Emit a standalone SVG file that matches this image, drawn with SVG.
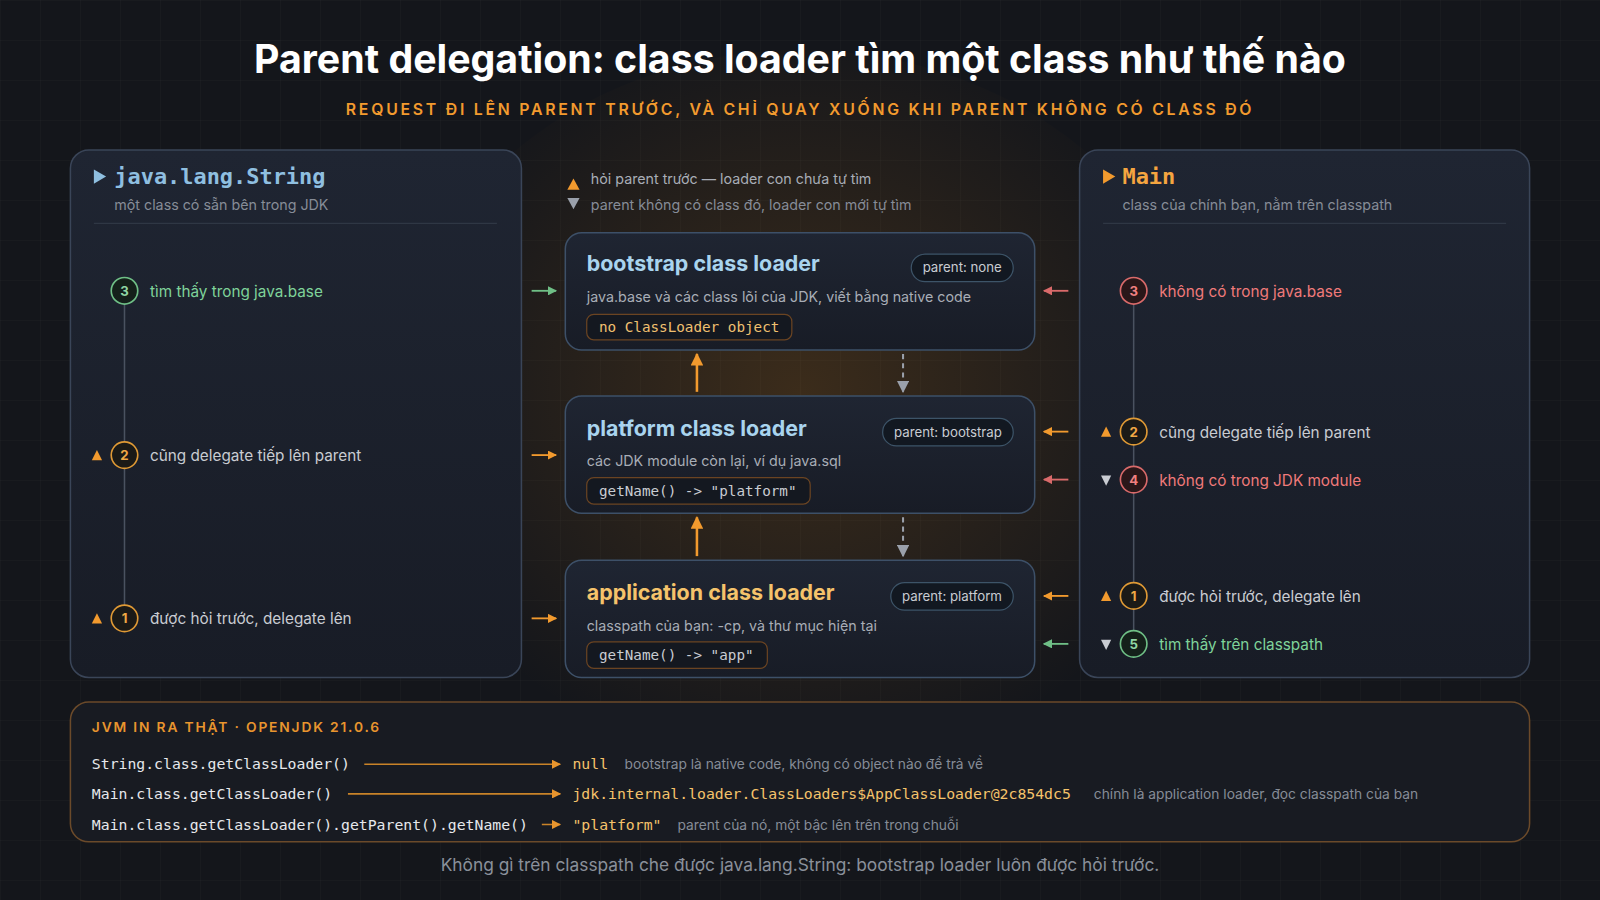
<svg xmlns="http://www.w3.org/2000/svg" width="1600" height="900" viewBox="0 0 1600 900">
<defs>
<pattern id="grid" width="40" height="40" patternUnits="userSpaceOnUse"><path d="M40 0H0V40" fill="none" stroke="#ffffff" stroke-opacity="0.035"/></pattern>
<radialGradient id="glow" cx="0.5" cy="0.45" r="0.5"><stop offset="0" stop-color="#c77a1a" stop-opacity="0.22"/><stop offset="1" stop-color="#c77a1a" stop-opacity="0"/></radialGradient>
<linearGradient id="card" x1="0" y1="0" x2="0" y2="1"><stop offset="0" stop-color="#1f2532"/><stop offset="1" stop-color="#181c26"/></linearGradient>
<marker id="ao" viewBox="0 0 10 10" refX="9" refY="5" markerWidth="5" markerHeight="5" orient="auto"><path d="M0 0L10 5L0 10z" fill="#f29a2e"/></marker>
<marker id="ag" viewBox="0 0 10 10" refX="9" refY="5" markerWidth="5" markerHeight="5" orient="auto"><path d="M0 0L10 5L0 10z" fill="#6fbf86"/></marker>
<marker id="ar" viewBox="0 0 10 10" refX="9" refY="5" markerWidth="5" markerHeight="5" orient="auto"><path d="M0 0L10 5L0 10z" fill="#d96a6a"/></marker>
<marker id="ay" viewBox="0 0 10 10" refX="9" refY="5" markerWidth="6" markerHeight="6" orient="auto"><path d="M0 0L10 5L0 10z" fill="#9aa0ab"/></marker>
<marker id="ab" viewBox="0 0 10 10" refX="9" refY="5" markerWidth="6" markerHeight="6" orient="auto"><path d="M0 0L10 5L0 10z" fill="#e8952e"/></marker>
</defs>
<style>
.s{font-family:"Inter","Liberation Sans",sans-serif}
.m{font-family:"DejaVu Sans Mono","Liberation Mono",monospace}
.panel{fill:url(#card);stroke:#3a4558;stroke-width:1.5}
.box{fill:url(#card);stroke:#3d5068;stroke-width:1.5}
.pill{fill:#121821;stroke:#3d5468;stroke-width:1.2}
.code{fill:#141820;stroke:#6b4422;stroke-width:1.2}
.gray{fill:#a8adb6}
.dim{fill:#868c97}
.lt{fill:#c9ccd2}
.ttl{fill:#a9d4ee;font-weight:700;font-size:21px}
.line{stroke:#4a5260;stroke-width:1.5}
</style>
<rect width="1600" height="900" fill="#14161b"/>
<rect width="1600" height="900" fill="url(#grid)"/>
<ellipse cx="800" cy="430" rx="420" ry="380" fill="url(#glow)"/>
<g transform="scale(1.0204)">
<text class="s" x="784" y="72" text-anchor="middle" font-size="38.5" font-weight="700" fill="#ffffff">Parent delegation: class loader tìm một class như thế nào</text>
<text class="s" x="784" y="113" text-anchor="middle" font-size="15.5" font-weight="600" letter-spacing="2.7" fill="#f29a2e">REQUEST ĐI LÊN PARENT TRƯỚC, VÀ CHỈ QUAY XUỐNG KHI PARENT KHÔNG CÓ CLASS ĐÓ</text>

<g id="left-panel">
<rect class="panel" x="69" y="147" width="442" height="517" rx="18"/>
<path d="M92 166L104 173L92 180z" fill="#8fbfe0"/>
<text class="m" x="112" y="180" font-size="21.5" font-weight="700" fill="#8fbfe0">java.lang.String</text>
<text class="s dim" x="112" y="206" font-size="14">một class có sẵn bên trong JDK</text>
<line x1="92" y1="219" x2="487" y2="219" stroke="#2f3744" stroke-width="1.2"/>
<line class="line" x1="122" y1="298" x2="122" y2="594"/>
<circle cx="122" cy="285" r="13" fill="#14201a" stroke="#6fbf86" stroke-width="1.6"/>
<text class="s" x="122" y="290" text-anchor="middle" font-size="13" font-weight="700" fill="#8fd6a3">3</text>
<text class="s" x="147" y="291" font-size="15" fill="#7fd39a">tìm thấy trong java.base</text>
<path d="M90 451L95 441L100 451z" fill="#f29a2e"/>
<circle cx="122" cy="446" r="13" fill="#1b1a17" stroke="#e09a35" stroke-width="1.6"/>
<text class="s" x="122" y="451" text-anchor="middle" font-size="13" font-weight="700" fill="#f0a845">2</text>
<text class="s lt" x="147" y="452" font-size="15">cũng delegate tiếp lên parent</text>
<path d="M90 611L95 601L100 611z" fill="#f29a2e"/>
<circle cx="122" cy="606" r="13" fill="#1b1a17" stroke="#e09a35" stroke-width="1.6"/>
<text class="s" x="122" y="611" text-anchor="middle" font-size="13" font-weight="700" fill="#f0a845">1</text>
<text class="s lt" x="147" y="612" font-size="15">được hỏi trước, delegate lên</text>
</g>

<g id="legend">
<path d="M556 186L562 175L568 186z" fill="#f29a2e"/>
<text class="s gray" x="579" y="180" font-size="14">hỏi parent trước — loader con chưa tự tìm</text>
<path d="M556 194L568 194L562 205z" fill="#9aa0ab"/>
<text class="s dim" x="579" y="206" font-size="14">parent không có class đó, loader con mới tự tìm</text>
</g>

<g id="bootstrap">
<rect class="box" x="554" y="228" width="460" height="115" rx="16"/>
<text class="s ttl" x="575" y="266">bootstrap class loader</text>
<rect class="pill" x="893" y="249" width="100" height="27" rx="13.5"/>
<text class="s lt" x="943" y="267" text-anchor="middle" font-size="13">parent: none</text>
<text class="s gray" x="575" y="296" font-size="14">java.base và các class lõi của JDK, viết bằng native code</text>
<rect class="code" x="575" y="308" width="201" height="25" rx="7"/>
<text class="m" x="587" y="325" font-size="14" fill="#f0c070">no ClassLoader object</text>
</g>

<g id="platform">
<rect class="box" x="554" y="388" width="460" height="115" rx="16"/>
<text class="s ttl" x="575" y="427">platform class loader</text>
<rect class="pill" x="865" y="410" width="128" height="27" rx="13.5"/>
<text class="s lt" x="929" y="428" text-anchor="middle" font-size="13">parent: bootstrap</text>
<text class="s gray" x="575" y="457" font-size="14">các JDK module còn lại, ví dụ java.sql</text>
<rect class="code" x="575" y="468" width="219" height="26" rx="7"/>
<text class="m" x="587" y="486" font-size="14" fill="#c9ccd2">getName() -&gt; "platform"</text>
</g>

<g id="application">
<rect class="box" x="554" y="549" width="460" height="115" rx="16" stroke="#a8692a"/>
<text class="s" x="575" y="588" font-size="21" font-weight="700" fill="#f5c36b">application class loader</text>
<rect class="pill" x="873" y="571" width="120" height="27" rx="13.5"/>
<text class="s lt" x="933" y="589" text-anchor="middle" font-size="13">parent: platform</text>
<text class="s gray" x="575" y="618" font-size="14">classpath của bạn: -cp, và thư mục hiện tại</text>
<rect class="code" x="575" y="629" width="177" height="26" rx="7"/>
<text class="m" x="587" y="647" font-size="14" fill="#c9ccd2">getName() -&gt; "app"</text>
</g>

<g id="right-panel">
<rect class="panel" x="1058" y="147" width="441" height="517" rx="18" stroke="#6b4a2a"/>
<path d="M1081 166L1093 173L1081 180z" fill="#f29a2e"/>
<text class="m" x="1100" y="180" font-size="21.5" font-weight="700" fill="#f5a540">Main</text>
<text class="s dim" x="1100" y="206" font-size="14">class của chính bạn, nằm trên classpath</text>
<line x1="1081" y1="219" x2="1476" y2="219" stroke="#2f3744" stroke-width="1.2"/>
<line class="line" x1="1111" y1="298" x2="1111" y2="618"/>
<circle cx="1111" cy="285" r="13" fill="#2a1719" stroke="#d96a6a" stroke-width="1.6"/>
<text class="s" x="1111" y="290" text-anchor="middle" font-size="13" font-weight="700" fill="#f08080">3</text>
<text class="s" x="1136" y="291" font-size="15" fill="#f07a7a">không có trong java.base</text>
<path d="M1079 428L1084 418L1089 428z" fill="#f29a2e"/>
<circle cx="1111" cy="423" r="13" fill="#1b1a17" stroke="#e09a35" stroke-width="1.6"/>
<text class="s" x="1111" y="428" text-anchor="middle" font-size="13" font-weight="700" fill="#f0a845">2</text>
<text class="s lt" x="1136" y="429" font-size="15">cũng delegate tiếp lên parent</text>
<path d="M1079 466L1089 466L1084 476z" fill="#c9ccd2"/>
<circle cx="1111" cy="470" r="13" fill="#2a1719" stroke="#d96a6a" stroke-width="1.6"/>
<text class="s" x="1111" y="475" text-anchor="middle" font-size="13" font-weight="700" fill="#f08080">4</text>
<text class="s" x="1136" y="476" font-size="15" fill="#f07a7a">không có trong JDK module</text>
<path d="M1079 589L1084 579L1089 589z" fill="#f29a2e"/>
<circle cx="1111" cy="584" r="13" fill="#1b1a17" stroke="#e09a35" stroke-width="1.6"/>
<text class="s" x="1111" y="589" text-anchor="middle" font-size="13" font-weight="700" fill="#f0a845">1</text>
<text class="s lt" x="1136" y="590" font-size="15">được hỏi trước, delegate lên</text>
<path d="M1079 627L1089 627L1084 637z" fill="#c9ccd2"/>
<circle cx="1111" cy="631" r="13" fill="#14201a" stroke="#6fbf86" stroke-width="1.6"/>
<text class="s" x="1111" y="636" text-anchor="middle" font-size="13" font-weight="700" fill="#8fd6a3">5</text>
<text class="s" x="1136" y="637" font-size="15" fill="#7fd39a">tìm thấy trên classpath</text>
</g>

<g id="jvm-output">
<rect x="69" y="688" width="1430" height="137" rx="18" fill="#181b22" stroke="#6b4a2a" stroke-width="1.5"/>
<text class="s" x="90" y="717" font-size="13.5" font-weight="600" letter-spacing="1.8" fill="#e8952e">JVM IN RA THẬT · OPENJDK 21.0.6</text>
<text class="m" x="90" y="754" font-size="14.5" fill="#e6e8ec">String.class.getClassLoader()</text>
<text class="m" x="90" y="783" font-size="14.5" fill="#e6e8ec">Main.class.getClassLoader()</text>
<text class="m" x="90" y="813" font-size="14.5" fill="#e6e8ec">Main.class.getClassLoader().getParent().getName()</text>
<text class="m" x="561" y="754" font-size="14.5" fill="#f5c36b">null</text>
<text class="s dim" x="612" y="754" font-size="13.5">bootstrap là native code, không có object nào để trả về</text>
<text class="m" x="561" y="783" font-size="14.5" fill="#f5c36b">jdk.internal.loader.ClassLoaders$AppClassLoader@2c854dc5</text>
<text class="s dim" x="1072" y="783" font-size="13.5">chính là application loader, đọc classpath của bạn</text>
<text class="m" x="561" y="813" font-size="14.5" fill="#f5c36b">"platform"</text>
<text class="s dim" x="664" y="813" font-size="13.5">parent của nó, một bậc lên trên trong chuỗi</text>
</g>

<g id="connectors" fill="none" stroke-width="1.8">
<line x1="521" y1="285" x2="545" y2="285" stroke="#6fbf86" marker-end="url(#ag)"/>
<line x1="521" y1="446" x2="545" y2="446" stroke="#f29a2e" marker-end="url(#ao)"/>
<line x1="521" y1="606" x2="545" y2="606" stroke="#f29a2e" marker-end="url(#ao)"/>
<line x1="1047" y1="285" x2="1023" y2="285" stroke="#d96a6a" marker-end="url(#ar)"/>
<line x1="1047" y1="423" x2="1023" y2="423" stroke="#f29a2e" marker-end="url(#ao)"/>
<line x1="1047" y1="470" x2="1023" y2="470" stroke="#d96a6a" marker-end="url(#ar)"/>
<line x1="1047" y1="584" x2="1023" y2="584" stroke="#f29a2e" marker-end="url(#ao)"/>
<line x1="1047" y1="631" x2="1023" y2="631" stroke="#6fbf86" marker-end="url(#ag)"/>
<line x1="683" y1="384" x2="683" y2="347" stroke="#f29a2e" stroke-width="2.5" marker-end="url(#ao)"/>
<line x1="683" y1="545" x2="683" y2="507" stroke="#f29a2e" stroke-width="2.5" marker-end="url(#ao)"/>
<line x1="885" y1="347" x2="885" y2="384" stroke="#9aa0ab" stroke-width="2" stroke-dasharray="5 4" marker-end="url(#ay)"/>
<line x1="885" y1="507" x2="885" y2="545" stroke="#9aa0ab" stroke-width="2" stroke-dasharray="5 4" marker-end="url(#ay)"/>
<line x1="357" y1="749" x2="549" y2="749" stroke="#c98328" stroke-width="1.5" marker-end="url(#ab)"/>
<line x1="341" y1="778" x2="549" y2="778" stroke="#c98328" stroke-width="1.5" marker-end="url(#ab)"/>
<line x1="531" y1="808" x2="549" y2="808" stroke="#c98328" stroke-width="1.5" marker-end="url(#ab)"/>
</g>
<text class="s" x="784" y="854" text-anchor="middle" font-size="17" fill="#8a909a">Không gì trên classpath che được java.lang.String: bootstrap loader luôn được hỏi trước.</text>
</g>
</svg>
